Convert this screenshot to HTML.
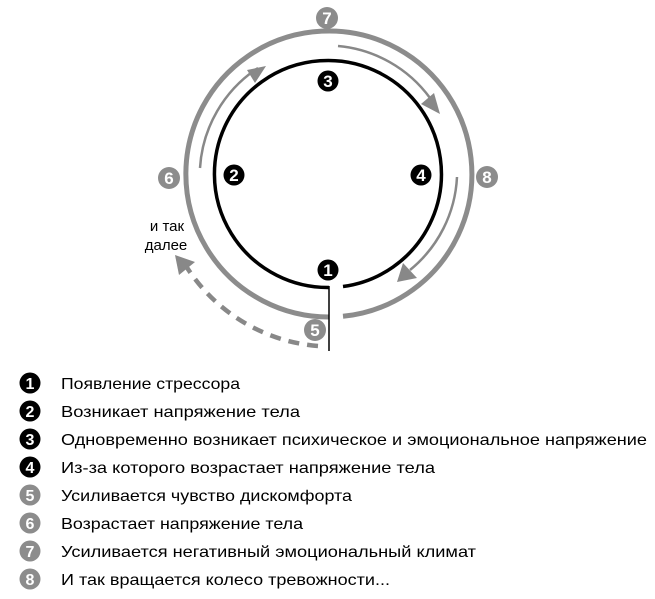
<!DOCTYPE html>
<html><head><meta charset="utf-8"><style>
html,body{margin:0;padding:0;background:#fff;}
svg{display:block;}
text{font-family:"Liberation Sans","DejaVu Sans",sans-serif;}
</style></head><body>
<svg width="655" height="599" viewBox="0 0 655 599" xmlns="http://www.w3.org/2000/svg">
<path d="M343,316.3 A143,143 0 1 0 329,317" fill="none" stroke="#8c8c8c" stroke-width="5"/>
<path d="M343,286.5 A113.5,113.5 0 1 0 329,287.5" fill="none" stroke="#000" stroke-width="3.5"/>
<line x1="329" y1="286" x2="329" y2="351" stroke="#000" stroke-width="1.5"/>
<path d="M200,168 A129,129 0 0 1 258,68" fill="none" stroke="#888" stroke-width="2.5"/>
<path d="M255,83 L266,66 L247,70 Z" fill="#888"/>
<path d="M338,46 A128,128 0 0 1 430,98" fill="none" stroke="#888" stroke-width="2.5"/>
<path d="M421,104 L440,114 L434,93 Z" fill="#888"/>
<path d="M457,177 A128,128 0 0 1 410,270" fill="none" stroke="#888" stroke-width="2.5"/>
<path d="M403,263 L397,282 L417,278 Z" fill="#888"/>
<path d="M318,346 A172,172 0 0 1 186,266" fill="none" stroke="#888" stroke-width="4.5" stroke-dasharray="11,8"/>
<path d="M175,255 L179,275 L195,262 Z" fill="#888"/>
<text x="167" y="231" font-size="15" text-anchor="middle" fill="#000">и так</text>
<text x="166" y="250" font-size="15" text-anchor="middle" fill="#000">далее</text>
<g font-weight="bold" font-size="17" text-anchor="middle">
<circle cx="327" cy="18" r="11" fill="#8c8c8c"/><text x="327" y="24" fill="#fff">7</text>
<circle cx="169" cy="178" r="11" fill="#8c8c8c"/><text x="169" y="184" fill="#fff">6</text>
<circle cx="487" cy="177" r="11" fill="#8c8c8c"/><text x="487" y="183" fill="#fff">8</text>
<circle cx="315" cy="330" r="11" fill="#8c8c8c"/><text x="315" y="336" fill="#fff">5</text>
<circle cx="328" cy="81" r="10.5" fill="#000"/><text x="328" y="87" fill="#fff">3</text>
<circle cx="234" cy="175" r="10.5" fill="#000"/><text x="234" y="181" fill="#fff">2</text>
<circle cx="421" cy="175" r="10.5" fill="#000"/><text x="421" y="181" fill="#fff">4</text>
<circle cx="328" cy="270" r="10.5" fill="#000"/><text x="328" y="276" fill="#fff">1</text>
</g>
<g font-weight="bold" font-size="16" text-anchor="middle">
<circle cx="30" cy="383" r="10.5" fill="#000"/><text x="30" y="389" fill="#fff">1</text>
<circle cx="30" cy="411" r="10.5" fill="#000"/><text x="30" y="417" fill="#fff">2</text>
<circle cx="30" cy="439" r="10.5" fill="#000"/><text x="30" y="445" fill="#fff">3</text>
<circle cx="30" cy="467" r="10.5" fill="#000"/><text x="30" y="473" fill="#fff">4</text>
<circle cx="30" cy="495" r="10.5" fill="#8c8c8c"/><text x="30" y="501" fill="#fff">5</text>
<circle cx="30" cy="523" r="10.5" fill="#8c8c8c"/><text x="30" y="529" fill="#fff">6</text>
<circle cx="30" cy="551" r="10.5" fill="#8c8c8c"/><text x="30" y="557" fill="#fff">7</text>
<circle cx="30" cy="579" r="10.5" fill="#8c8c8c"/><text x="30" y="585" fill="#fff">8</text>
</g>
<g font-size="16" fill="#000">
<text x="61" y="389" textLength="179" lengthAdjust="spacingAndGlyphs">Появление стрессора</text>
<text x="61" y="417" textLength="239" lengthAdjust="spacingAndGlyphs">Возникает напряжение тела</text>
<text x="61" y="445" textLength="586" lengthAdjust="spacingAndGlyphs">Одновременно возникает психическое и эмоциональное напряжение</text>
<text x="61" y="473" textLength="374" lengthAdjust="spacingAndGlyphs">Из-за которого возрастает напряжение тела</text>
<text x="61" y="501" textLength="291" lengthAdjust="spacingAndGlyphs">Усиливается чувство дискомфорта</text>
<text x="61" y="529" textLength="242" lengthAdjust="spacingAndGlyphs">Возрастает напряжение тела</text>
<text x="61" y="557" textLength="415" lengthAdjust="spacingAndGlyphs">Усиливается негативный эмоциональный климат</text>
<text x="61" y="585" textLength="329" lengthAdjust="spacingAndGlyphs">И так вращается колесо тревожности...</text>
</g>
</svg>
</body></html>
